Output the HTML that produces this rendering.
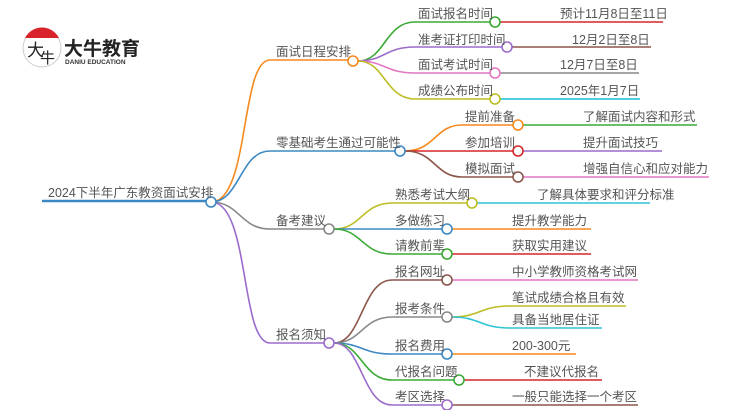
<!DOCTYPE html>
<html><head><meta charset="utf-8"><style>
html,body{margin:0;padding:0;background:#fff;}
svg{display:block;font-family:"Liberation Sans","Noto Sans CJK SC",sans-serif;}
text{fill:#555;font-size:12.5px;}
</style></head><body>
<svg width="750" height="410" viewBox="0 0 750 410" xmlns="http://www.w3.org/2000/svg">
<g fill="none" stroke-width="1.6">
<circle cx="42" cy="48" r="19" stroke="#ccc" stroke-width="1" fill="#fff"/>
<path d="M25,38 A19,19 0 0 1 59,38 Z" fill="#d9232a" stroke="none"/>
<path d="M42,201 H206" stroke="#3b88c3" stroke-width="2.4"/>
<path d="M211,202 C250,202 240,60 270,60 H348" stroke="#f5891f"/>
<path d="M211,202 C240,202 240,151 270,151 H395" stroke="#3b88c3"/>
<path d="M211,202 C240,202 240,229 270,229 H324" stroke="#888"/>
<path d="M211,202 C250,202 240,343 270,343 H324" stroke="#9b6bcc"/>
<path d="M358,61 C385,61 385,22 415,22 H490" stroke="#3aaa35"/>
<path d="M358,61 C385,61 385,47 415,47 H502" stroke="#9b6bcc"/>
<path d="M358,61 C385,61 385,73 415,73 H490" stroke="#e377c2"/>
<path d="M358,61 C385,61 385,99 415,99 H490" stroke="#bcbd22"/>
<path d="M500,22 H663" stroke="#d62728"/>
<path d="M512,47 H651" stroke="#8c564b"/>
<path d="M500,73 H639" stroke="#888"/>
<path d="M500,99 H640" stroke="#17becf"/>
<path d="M405,151 C435,151 435,125 462,125 H513" stroke="#f5891f"/>
<path d="M405,151 H513" stroke="#d62728"/>
<path d="M405,151 C435,151 435,177 462,177 H513" stroke="#8c564b"/>
<path d="M523,125 H697" stroke="#3aaa35"/>
<path d="M523,151 H662" stroke="#9b6bcc"/>
<path d="M523,177 H709" stroke="#e377c2"/>
<path d="M334,229 C362,229 362,203 392,203 H467" stroke="#bcbd22"/>
<path d="M334,229 H442" stroke="#3b88c3"/>
<path d="M334,229 C362,229 362,254 392,254 H442" stroke="#3aaa35"/>
<path d="M477,203 H650" stroke="#2ec4d6"/>
<path d="M452,229 H591" stroke="#f5891f"/>
<path d="M452,254 H591" stroke="#d62728"/>
<path d="M334,343 C362,343 362,280 392,280 H442" stroke="#8c564b"/>
<path d="M334,343 C362,343 362,317 392,317 H442" stroke="#888"/>
<path d="M334,343 C362,343 362,354 392,354 H442" stroke="#3b88c3"/>
<path d="M334,343 C362,343 362,380 392,380 H454" stroke="#3aaa35"/>
<path d="M334,343 C362,343 362,405 392,405 H442" stroke="#9b6bcc"/>
<path d="M452,280 H638" stroke="#e377c2"/>
<path d="M452,317 C480,317 480,306 510,306 H626" stroke="#bcbd22"/>
<path d="M452,317 C480,317 480,328 510,328 H602" stroke="#2ec4d6"/>
<path d="M452,354 H576" stroke="#f5891f"/>
<path d="M464,380 H602" stroke="#d62728"/>
<path d="M452,405 H638" stroke="#8c564b"/>
</g>
<g fill="#fff" stroke-width="1.6">
<circle cx="211" cy="202" r="5" stroke="#3b88c3"/>
<circle cx="353" cy="61" r="5" stroke="#f5891f"/>
<circle cx="400" cy="151" r="5" stroke="#3b88c3"/>
<circle cx="329" cy="229" r="5" stroke="#888"/>
<circle cx="329" cy="343" r="5" stroke="#9b6bcc"/>
<circle cx="495" cy="22" r="5" stroke="#3aaa35"/>
<circle cx="507" cy="47" r="5" stroke="#9b6bcc"/>
<circle cx="495" cy="73" r="5" stroke="#e377c2"/>
<circle cx="495" cy="99" r="5" stroke="#bcbd22"/>
<circle cx="518" cy="125" r="5" stroke="#f5891f"/>
<circle cx="518" cy="151" r="5" stroke="#d62728"/>
<circle cx="518" cy="177" r="5" stroke="#8c564b"/>
<circle cx="472" cy="203" r="5" stroke="#bcbd22"/>
<circle cx="447" cy="229" r="5" stroke="#3b88c3"/>
<circle cx="447" cy="254" r="5" stroke="#3aaa35"/>
<circle cx="447" cy="280" r="5" stroke="#8c564b"/>
<circle cx="447" cy="317" r="5" stroke="#888"/>
<circle cx="447" cy="354" r="5" stroke="#3b88c3"/>
<circle cx="459" cy="380" r="5" stroke="#3aaa35"/>
<circle cx="447" cy="405" r="5" stroke="#9b6bcc"/>
</g>
<text x="27" y="56" style="font-size:17px;fill:#222">大</text>
<text x="40" y="63" style="font-size:15px;fill:#222">牛</text>
<text x="64" y="55" style="font-size:19px;font-weight:bold;fill:#222">大牛教育</text>
<text x="65" y="64" style="font-size:6.5px;font-weight:bold;fill:#333">DANIU EDUCATION</text>
<text x="48" y="197">2024下半年广东教资面试安排</text>
<text x="276" y="56">面试日程安排</text>
<text x="276" y="147">零基础考生通过可能性</text>
<text x="276" y="225">备考建议</text>
<text x="276" y="339">报名须知</text>
<text x="418" y="18">面试报名时间</text>
<text x="418" y="44">准考证打印时间</text>
<text x="418" y="69">面试考试时间</text>
<text x="418" y="95">成绩公布时间</text>
<text x="560" y="18">预计11月8日至11日</text>
<text x="572" y="44">12月2日至8日</text>
<text x="560" y="69">12月7日至8日</text>
<text x="560" y="95">2025年1月7日</text>
<text x="465" y="121">提前准备</text>
<text x="465" y="147">参加培训</text>
<text x="465" y="173">模拟面试</text>
<text x="583" y="121">了解面试内容和形式</text>
<text x="583" y="147">提升面试技巧</text>
<text x="583" y="173">增强自信心和应对能力</text>
<text x="395" y="199">熟悉考试大纲</text>
<text x="395" y="225">多做练习</text>
<text x="395" y="250">请教前辈</text>
<text x="537" y="199">了解具体要求和评分标准</text>
<text x="512" y="225">提升教学能力</text>
<text x="512" y="250">获取实用建议</text>
<text x="395" y="276">报名网址</text>
<text x="395" y="313">报考条件</text>
<text x="395" y="350">报名费用</text>
<text x="395" y="376">代报名问题</text>
<text x="395" y="401">考区选择</text>
<text x="512" y="276">中小学教师资格考试网</text>
<text x="512" y="302">笔试成绩合格且有效</text>
<text x="512" y="324">具备当地居住证</text>
<text x="512" y="350">200-300元</text>
<text x="524" y="376">不建议代报名</text>
<text x="512" y="401">一般只能选择一个考区</text>
</svg>
</body></html>
